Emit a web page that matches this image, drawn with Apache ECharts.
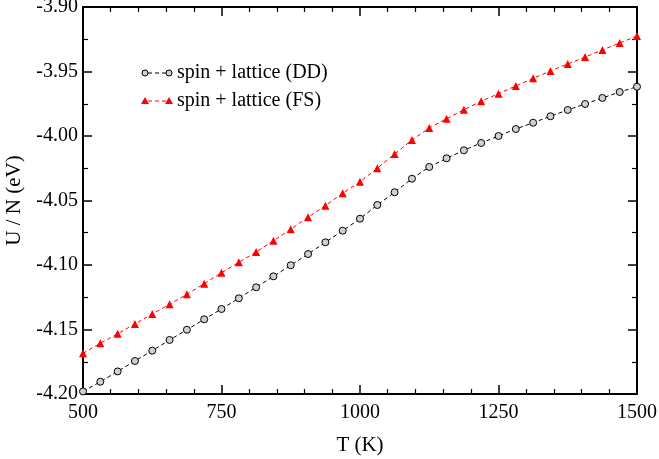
<!DOCTYPE html>
<html lang="en">
<head>
    <meta charset="UTF-8">
    <title>U / N vs T</title>
    <style>
        body{ margin: 0; }
        .chart{ width: 659px; height: 459px; }
    </style>
</head>
<body>
    <div class="chart"></div>
    <script src="https://cdn.jsdelivr.net/npm/echarts@6.0.0/dist/echarts.min.js"></script>
    <script>
        const temps = [500, 531.25, 562.5, 593.75, 625, 656.25, 687.5, 718.75, 750, 781.25, 812.5, 843.75,
            875, 906.25, 937.5, 968.75, 1000, 1031.25, 1062.5, 1093.75, 1125, 1156.25, 1187.5, 1218.75,
            1250, 1281.25, 1312.5, 1343.75, 1375, 1406.25, 1437.5, 1468.75, 1500]
        const ddValues = [-4.198, -4.1905, -4.1825, -4.1744, -4.1664, -4.1581, -4.1502, -4.1421, -4.1341,
            -4.1258, -4.1173, -4.1088, -4.1002, -4.0915, -4.0824, -4.0734, -4.0641, -4.0535, -4.0436,
            -4.0331, -4.0240, -4.0173, -4.0111, -4.0054, -4.0000, -3.9946, -3.9897, -3.9847, -3.9798,
            -3.9752, -3.9705, -3.9659, -3.9618]
        const fsValues = [-4.1685, -4.1607, -4.1533, -4.1457, -4.1380, -4.1305, -4.1227, -4.1145, -4.1060,
            -4.0979, -4.0899, -4.0812, -4.0723, -4.0630, -4.0540, -4.0444, -4.0354, -4.0250, -4.0140,
            -4.0031, -3.9938, -3.9866, -3.9796, -3.9731, -3.9672, -3.9612, -3.9553, -3.9496, -3.9442,
            -3.9388, -3.9333, -3.9279, -3.9225]
        const seriesNames = ['spin + lattice (DD)', 'spin + lattice (FS)']

        const font = 'Liberation Serif'
        const chart = echarts.init(document.querySelector('.chart'))

        const axisLine = { lineStyle: { color: '#000', width: 2 } }
        const tick = { inside: true, length: 9, lineStyle: { color: '#000', width: 1.5 } }
        const minor = n => ({ show: true, splitNumber: n, length: 5, lineStyle: { color: '#000', width: 1.2 } })

        function xAxisOf (pos, labels) {
            return {
                type: 'value', position: pos, min: 500, max: 1500, interval: 250,
                name: labels ? 'T (K)' : '', nameLocation: 'middle', nameGap: 41,
                nameTextStyle: { fontFamily: font, fontSize: 21, color: '#000' },
                axisLine, axisTick: tick, minorTick: minor(5),
                axisLabel: { show: labels, fontFamily: font, fontSize: 20, color: '#000', margin: 9,
                    formatter: v => String(v) },
                splitLine: { show: false }
            }
        }
        function yAxisOf (pos, labels) {
            return {
                type: 'value', position: pos, min: -4.20, max: -3.90, interval: 0.05,
                name: labels ? 'U / N (eV)' : '', nameLocation: 'middle', nameGap: 57, nameRotate: 90,
                nameTextStyle: { fontFamily: font, fontSize: 21, color: '#000' },
                axisLine, axisTick: tick, minorTick: minor(2),
                axisLabel: { show: labels, fontFamily: font, fontSize: 20, color: '#000', margin: 5,
                    formatter: v => v.toFixed(2) },
                splitLine: { show: false }
            }
        }

        function legendRow (y, symbol, color, fill, text) {
            const marks = [145, 169].map(x => symbol === 'circle'
                ? { type: 'circle', shape: { cx: x, cy: y, r: 3 }, style: { fill, stroke: color, lineWidth: 1 } }
                : { type: 'polygon', shape: { points: [[x, y - 4], [x - 4, y + 3], [x + 4, y + 3]] }, style: { fill: color } })
            return [
                { type: 'line', shape: { x1: 148, y1: y, x2: 166, y2: y },
                    style: { stroke: color, lineWidth: 1, lineDash: [4, 3] } },
                ...marks,
                { type: 'text', x: 177, y: y, style: { text, font: `20px "${font}"`, fill: '#000', verticalAlign: 'middle' } }
            ]
        }

        chart.setOption({
            animation: false,
            grid: { left: 83, right: 22, top: 7, bottom: 65, outerBoundsMode: 'none', containLabel: false },
            xAxis: [xAxisOf('bottom', true), xAxisOf('top', false)],
            yAxis: [yAxisOf('left', true), yAxisOf('right', false)],
            series: [
                {
                    name: seriesNames[0], type: 'line',
                    data: temps.map((t, i) => [t, ddValues[i]]),
                    symbol: 'circle', symbolSize: 7,
                    itemStyle: { color: '#d0d0d0', borderColor: '#000', borderWidth: 1 },
                    lineStyle: { color: '#000', width: 1, type: [4, 3] }
                },
                {
                    name: seriesNames[1], type: 'line',
                    data: temps.map((t, i) => [t, fsValues[i]]),
                    symbol: 'triangle', symbolSize: 8,
                    itemStyle: { color: '#ff0000' },
                    lineStyle: { color: '#ff0000', width: 1, type: [4, 3] }
                }
            ],
            graphic: [
                ...legendRow(73, 'circle', '#000', '#d0d0d0', seriesNames[0]),
                ...legendRow(101, 'triangle', '#ff0000', '#ff0000', seriesNames[1])
            ]
        })
    </script>
</body>
</html>
